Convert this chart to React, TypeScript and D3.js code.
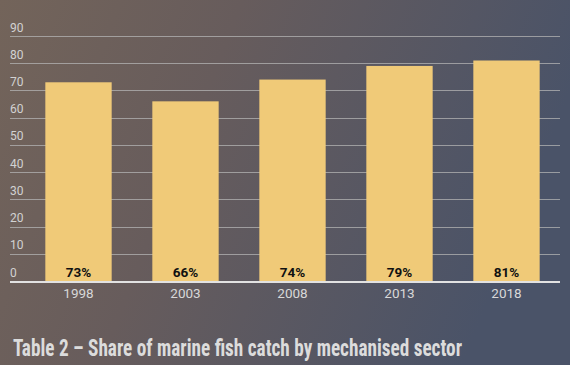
import React, { useEffect, useRef } from 'react';
import * as d3 from 'd3';

const years = ['1998', '2003', '2008', '2013', '2018'];
const shares = [73, 66, 74, 79, 81];
const yTicks = [0, 10, 20, 30, 40, 50, 60, 70, 80, 90];
const title = 'Table 2 – Share of marine fish catch by mechanised sector';

const W = 570;
const H = 365;

const App: React.FC = () => {
  const svgRef = useRef<SVGSVGElement>(null);

  useEffect(() => {
    document.body.style.margin = '0';
    if (!svgRef.current) return;
    const svg = d3.select(svgRef.current);
    svg.selectAll('*').remove();

    // background gradient, brown on the left fading to slate blue on the right
    const defs = svg.append('defs');
    const grad = defs.append('linearGradient')
      .attr('id', 'bg')
      .attr('x1', '0%').attr('y1', '0%')
      .attr('x2', '100%').attr('y2', '25%');
    grad.append('stop').attr('offset', '0%').attr('stop-color', '#73645a');
    grad.append('stop').attr('offset', '40%').attr('stop-color', '#675c5c');
    grad.append('stop').attr('offset', '100%').attr('stop-color', '#4a5368');

    svg.append('rect')
      .attr('width', W).attr('height', H)
      .attr('fill', 'url(#bg)');

    const x = d3.scaleBand<string>()
      .domain(years)
      .range([25, 560])
      .paddingInner(0.38)
      .paddingOuter(0.19);

    const y = d3.scaleLinear()
      .domain([0, 90])
      .range([281, 36]);

    // gridlines
    svg.append('g')
      .selectAll('line')
      .data(yTicks.filter(t => t > 0))
      .join('line')
      .attr('x1', 10).attr('x2', 560)
      .attr('y1', d => Math.round(y(d)) + 0.5)
      .attr('y2', d => Math.round(y(d)) + 0.5)
      .attr('stroke', '#b4b4b4')
      .attr('stroke-opacity', 0.75)
      .attr('stroke-width', 1);

    // y tick labels
    svg.append('g')
      .selectAll('text')
      .data(yTicks)
      .join('text')
      .attr('x', 10)
      .attr('y', d => y(d) - 4.5)
      .attr('font-family', 'Roboto, sans-serif')
      .attr('font-size', 12)
      .attr('fill', '#d2d2d2')
      .text(d => d);

    // bars
    svg.append('g')
      .selectAll('rect')
      .data(shares)
      .join('rect')
      .attr('x', (_, i) => x(years[i])!)
      .attr('y', d => y(d))
      .attr('width', x.bandwidth())
      .attr('height', d => y(0) - y(d))
      .attr('fill', '#f0ca78');

    // value labels
    svg.append('g')
      .selectAll('text')
      .data(shares)
      .join('text')
      .attr('x', (_, i) => x(years[i])! + x.bandwidth() / 2)
      .attr('y', 277)
      .attr('text-anchor', 'middle')
      .attr('font-family', 'Roboto, sans-serif')
      .attr('font-weight', 'bold')
      .attr('font-size', 13.5)
      .attr('fill', '#111')
      .text(d => `${d}%`);

    // baseline
    svg.append('line')
      .attr('x1', 10).attr('x2', 560)
      .attr('y1', 282).attr('y2', 282)
      .attr('stroke', '#e2e2e2')
      .attr('stroke-width', 2);

    // x labels
    svg.append('g')
      .selectAll('text')
      .data(years)
      .join('text')
      .attr('x', d => x(d)! + x.bandwidth() / 2)
      .attr('y', 298)
      .attr('text-anchor', 'middle')
      .attr('font-family', 'Roboto, sans-serif')
      .attr('font-size', 13.5)
      .attr('fill', '#d8d8d8')
      .text(d => d);

    // title
    svg.append('text')
      .attr('x', 13)
      .attr('y', 356)
      .attr('font-family', '"Liberation Sans Narrow", "Roboto Condensed", sans-serif')
      .attr('font-weight', 'bold')
      .attr('font-size', 23)
      .attr('textLength', 449)
      .attr('lengthAdjust', 'spacingAndGlyphs')
      .attr('fill', '#dcdcdc')
      .text(title);
  }, []);

  return <svg ref={svgRef} width={W} height={H} style={{ display: 'block' }} />;
};

export default App;
